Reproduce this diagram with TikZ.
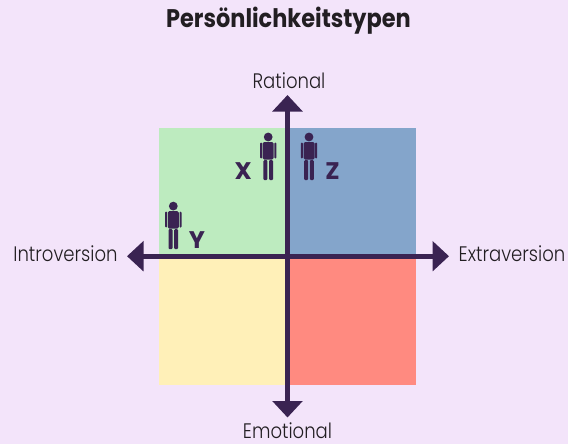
\documentclass[tikz,border=0pt]{standalone}
\usepackage{fontspec}
\setmainfont{Poppins}
\newfontfamily\titlefont{Poppins}[FakeStretch=0.88]
\newfontfamily\lightfont{Poppins Light}[FakeStretch=0.86]
\usepackage{tikz}
\usetikzlibrary{arrows.meta,positioning}
\definecolor{bgcol}{HTML}{F3E4FA}
\definecolor{axiscol}{HTML}{3A2352}
\definecolor{textcol}{HTML}{221E22}
\definecolor{greencol}{HTML}{BDEBBF}
\definecolor{bluecol}{HTML}{84A5CB}
\definecolor{yellowcol}{HTML}{FFF0B8}
\definecolor{redcol}{HTML}{FF8A80}

\begin{document}
\begin{tikzpicture}[x=1pt, y=-1pt,
  quad/.style={minimum width=128.5pt, minimum height=128.5pt, inner sep=0pt, anchor=center},
  axislabel/.style={font=\lightfont\fontsize{21}{21}\selectfont, text=textcol, inner sep=0pt},
  letter/.style={font=\fontsize{24}{24}\selectfont\bfseries, text=axiscol, inner sep=0pt},
  axisline/.style={{Triangle[length=16.5pt,width=29.5pt]}-{Triangle[length=16.5pt,width=29.5pt]},
                   draw=axiscol, line width=5pt},
  person/.pic={
    \fill[axiscol] (0,-22.5) circle (4.4);
    \fill[axiscol, rounded corners=1.5pt] (-5.5,-17.5) rectangle (5.5,0);
    \fill[axiscol, rounded corners=1pt] (-8.2,-17) rectangle (-6.2,-1);
    \fill[axiscol, rounded corners=1pt] (6.2,-17) rectangle (8.2,-1);
    \fill[axiscol, rounded corners=1pt] (-4.8,0.6) rectangle (-0.8,20.5);
    \fill[axiscol, rounded corners=1pt] (0.8,0.6) rectangle (4.8,20.5);
  }]

  % ---- Background ----
  \fill[bgcol] (0,0) rectangle (568,444);
  \useasboundingbox (0,0) rectangle (568,444);

  % ---- Title ----
  \node[font=\titlefont\fontsize{25.5}{25.5}\selectfont\bfseries, text=textcol, inner sep=0pt] (title) at (288.5,21) {Persönlichkeitstypen};

  % ---- Quadrants ----
  \node[quad, fill=greencol]  (qgreen)  at (223.25,192.25) {};
  \node[quad, fill=bluecol]   (qblue)   at (351.75,192.25) {};
  \node[quad, fill=yellowcol] (qyellow) at (223.25,320.75) {};
  \node[quad, fill=redcol]    (qred)    at (351.75,320.75) {};

  % ---- Axis ends ----
  \coordinate (top)    at (287.5,95);
  \coordinate (bottom) at (287.5,417.5);
  \coordinate (left)   at (127,256.2);
  \coordinate (right)  at (449,256.2);

  % ---- Axes ----
  \draw[axisline] (bottom) -- (top);
  \draw[axisline] (left) -- (right);

  % ---- Axis labels ----
  \node[axislabel] (rational) at (289,81) {Rational};
  \node[axislabel] (emotional) at (287.5,431) {Emotional};
  \node[axislabel] (intro) at (65.5,254) {Introversion};
  \node[axislabel] (extra) at (512,254) {Extraversion};

  % ---- Persons ----
  \pic at (268.2,159.5) {person};
  \pic at (309,159.5) {person};
  \pic at (173.3,228.6) {person};

  % ---- Person letters ----
  \node[letter] (lx) at (243.3,171.5) {X};
  \node[letter] (lz) at (332.5,171.5) {Z};
  \node[letter] (ly) at (197,240.5) {Y};
\end{tikzpicture}
\end{document}
